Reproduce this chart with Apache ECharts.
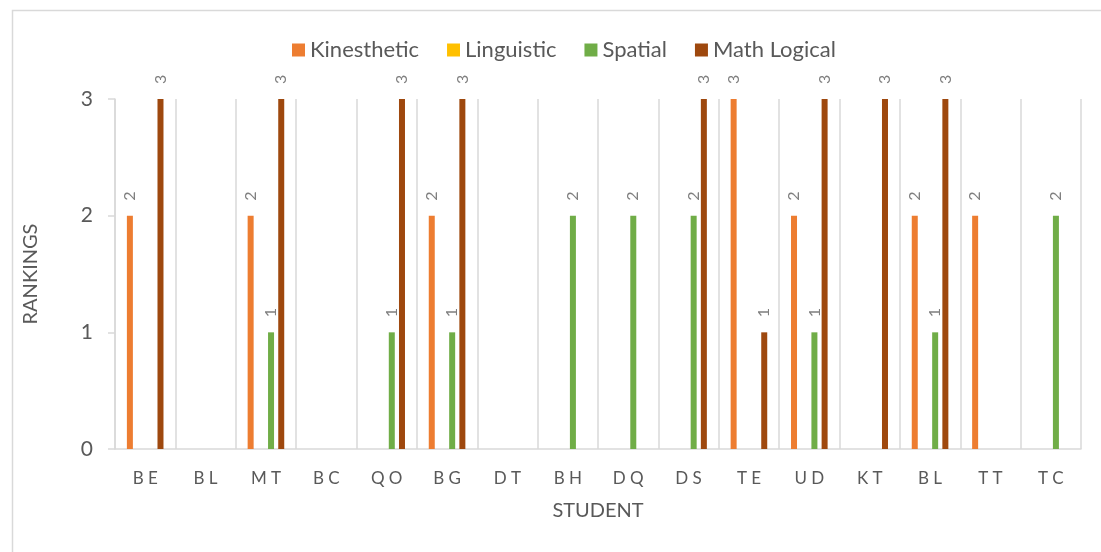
<!DOCTYPE html>
<html>
<head>
<meta charset="utf-8">
<script src="https://cdn.jsdelivr.net/npm/echarts@6/dist/echarts.min.js"></script>
<style>
html,body{margin:0;padding:0;background:#fff;}
#chart{width:1101px;height:552px;}
</style>
</head>
<body>
<div id="chart"></div>
<script>
const categories = ['BE','BL','MT','BC','QO','BG','DT','BH','DQ','DS','TE','UD','KT','BL','TT','TC'];
const kinesthetic = [2, null, 2, null, null, 2, null, null, null, null, 3, 2, null, 2, 2, null];
const linguistic  = [null, null, null, null, null, null, null, null, null, null, null, null, null, null, null, null];
const spatial     = [null, null, 1, null, 1, 1, null, 2, 2, 2, null, 1, null, 1, null, 2];
const mathLogical = [3, null, 3, null, 3, 3, null, null, null, 3, 1, 3, 3, 3, null, null];
const yTicks = [0, 1, 2, 3];

const FONT = 'Lato';
const chart = echarts.init(document.getElementById('chart'));
const labelCfg = {
  show: true, position: 'top', rotate: 90, align: 'left', verticalAlign: 'middle',
  distance: 15, color: '#808080', fontSize: 16, fontFamily: FONT
};
function mk(name, data, color) {
  return { name, type: 'bar', data, barWidth: 6, barGap: '70%',
    itemStyle: { color }, label: labelCfg };
}
chart.setOption({
  animation: false,
  textStyle: { fontFamily: FONT },
  graphic: [{ type: 'rect', left: 10, top: 8, shape: { width: 1200, height: 700 },
    style: { fill: 'none', stroke: '#d9d9d9', lineWidth: 1.5 }, silent: true }],
  legend: {
    top: 34, left: 287, icon: 'rect', itemWidth: 13, itemHeight: 13, itemGap: 28,
    textStyle: { color: '#595959', fontSize: 22, fontFamily: FONT },
    data: ['Kinesthetic', 'Linguistic', 'Spatial', 'Math Logical']
  },
  grid: { left: 115, right: 20, top: 99, bottom: 103, containLabel: false },
  xAxis: {
    type: 'category', data: categories,
    name: 'STUDENT', nameLocation: 'middle', nameGap: 52,
    nameTextStyle: { color: '#595959', fontSize: 20, fontFamily: FONT },
    axisLine: { lineStyle: { color: '#d9d9d9', width: 1.5 } },
    axisTick: { show: false },
    axisLabel: { color: '#595959', fontSize: 17, margin: 21, fontFamily: FONT,
      formatter: v => v.split('').join('\u2005') },
    splitLine: { show: true, lineStyle: { color: '#d9d9d9', width: 1.5 } }
  },
  yAxis: {
    type: 'value', min: 0, max: 3, interval: 1,
    name: 'RANKINGS', nameLocation: 'middle', nameGap: 74, nameRotate: 90,
    nameTextStyle: { color: '#595959', fontSize: 20, fontFamily: FONT },
    axisLine: { show: true, lineStyle: { color: '#d9d9d9', width: 1.5 } },
    axisTick: { show: true, length: 7, lineStyle: { color: '#d9d9d9', width: 1.5 } },
    axisLabel: { color: '#595959', fontSize: 21, margin: 22, fontFamily: FONT,
      customValues: yTicks },
    splitLine: { show: false }
  },
  series: [
    mk('Kinesthetic', kinesthetic, '#ED7D31'),
    mk('Linguistic', linguistic, '#FFC000'),
    mk('Spatial', spatial, '#70AD47'),
    mk('Math Logical', mathLogical, '#9E480E')
  ]
});
</script>
</body>
</html>
